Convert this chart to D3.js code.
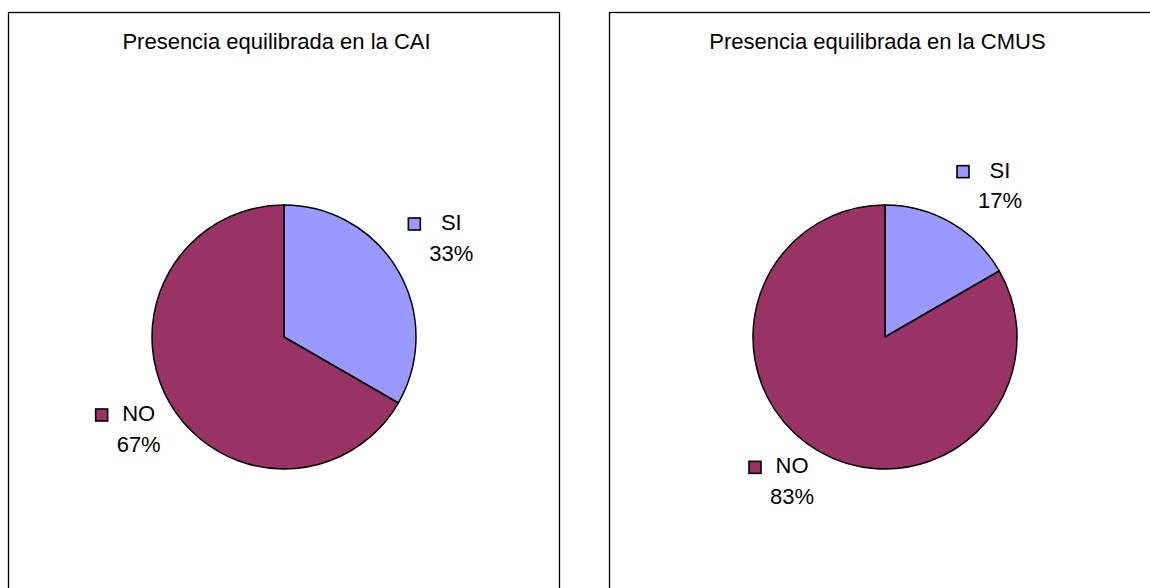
<!DOCTYPE html>
<html>
<head>
<meta charset="utf-8">
<script src="https://cdn.jsdelivr.net/npm/d3@7"></script>
<style>
  body { margin: 0; background: #fff; }
  text { font-family: "Liberation Sans", Arial, sans-serif; fill: #000; }
</style>
</head>
<body>
<svg id="chart" width="1150" height="588"></svg>
<script>
// data
const titles = ["Presencia equilibrada en la CAI", "Presencia equilibrada en la CMUS"]
const categories = ["SI", "NO"]
const caiValues = [1, 2]
const cmusValues = [1, 5]
const colors = ["#9999FF", "#993366"]

const svg = d3.select("#chart")
const H = 588
const panelW = 551, panelTop = 12
const panelX = [8, 609]
const radius = 132
const fontSize = 22

const color = d3.scaleOrdinal().domain(categories).range(colors)
const pct = d3.format(".0%")

function drawPie(values, title, px) {
    const g = svg.append("g").attr("transform", `translate(${px},0)`)

    // frame, runs off the bottom of the picture
    g.append("rect")
        .attr("x", 0.5).attr("y", panelTop + 0.5)
        .attr("width", panelW).attr("height", H)
        .attr("fill", "#fff").attr("stroke", "#000").attr("stroke-width", 1.3)

    g.append("text")
        .attr("x", panelW / 2 - 7).attr("y", 49)
        .attr("text-anchor", "middle")
        .style("font-size", fontSize + "px")
        .text(title)

    const cx = panelW / 2 + 0.5, cy = 337
    const data = categories.map((c, i) => ({ name: c, value: values[i] }))
    const total = d3.sum(values)
    const arcs = d3.pie().sort(null).value(d => d.value)(data)
    const arc = d3.arc().innerRadius(0).outerRadius(radius)

    const pie = g.append("g").attr("transform", `translate(${cx},${cy})`)
    pie.selectAll("path").data(arcs).join("path")
        .attr("d", arc)
        .attr("fill", d => color(d.data.name))
        .attr("stroke", "#000")
        .attr("stroke-width", 1.5)
        .attr("stroke-linejoin", "round")

    // labels: box with its corner on the mid angle, just outside the edge
    const boxW = 65, boxH = 48
    const labels = pie.selectAll(".lbl").data(arcs).join("g").attr("class", "lbl")
    labels.each(function (d) {
        const a = (d.startAngle + d.endAngle) / 2
        const ax = Math.sin(a) * (radius + 11), ay = -Math.cos(a) * (radius + 11)
        const bx = ax + Math.sign(ax) * boxW / 2, by = ay + Math.sign(ay) * boxH / 2
        const left = bx - boxW / 2, top = by - boxH / 2
        const tx = bx + 11
        const sel = d3.select(this)
        sel.append("rect")
            .attr("x", left + 0.5).attr("y", top + 0.5)
            .attr("width", 12).attr("height", 12)
            .attr("fill", color(d.data.name))
            .attr("stroke", "#000").attr("stroke-width", 1.6)
        sel.append("text")
            .attr("x", tx).attr("y", top + 12.5)
            .attr("text-anchor", "middle")
            .style("font-size", fontSize + "px")
            .text(d.data.name)
        sel.append("text")
            .attr("x", tx).attr("y", top + 43)
            .attr("text-anchor", "middle")
            .style("font-size", fontSize + "px")
            .text(pct(d.data.value / total))
    })
}

drawPie(caiValues, titles[0], panelX[0])
drawPie(cmusValues, titles[1], panelX[1])
</script>
</body>
</html>
